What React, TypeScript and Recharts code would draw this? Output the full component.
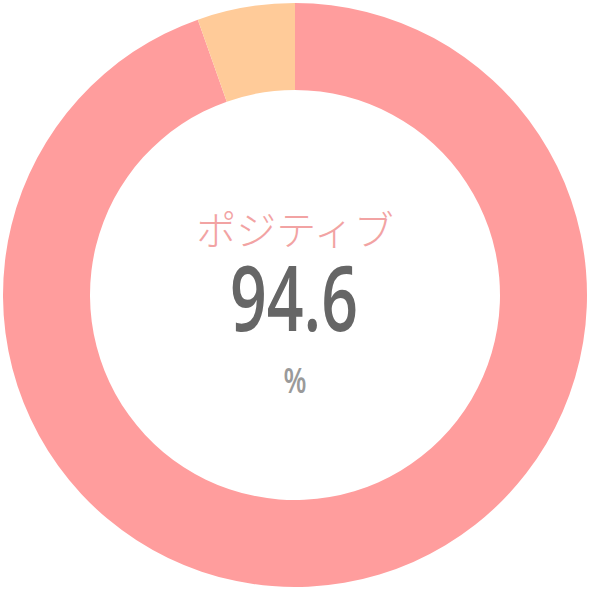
import React from 'react';
import { PieChart, Pie, Cell, Label } from 'recharts';

const categories = ['ポジティブ', 'その他'];
const values = [94.6, 5.4];
const colors = ['#FF9D9D', '#FFCB99'];
const centerTitle = 'ポジティブ';
const centerValue = '94.6';
const centerUnit = '%';

const data = categories.map((name, i) => ({ name, value: values[i] }));

const CenterText = (props: any) => {
  const vb = props.viewBox || {};
  const cx = vb.cx ?? 295;
  const cy = vb.cy ?? 295;
  return (
    <g>
      <text x={cx} y={cy - 50} textAnchor="middle" fill="#F2A3A3" fontSize={40}
        fontFamily="'Noto Sans CJK JP', sans-serif" fontWeight={300}>{centerTitle}</text>
      <text x={cx - 1} y={cy + 36} textAnchor="middle" fill="#666666" fontSize={90} fontWeight={600}
        fontFamily="'Open Sans', sans-serif" textLength={128} lengthAdjust="spacingAndGlyphs">{centerValue}</text>
      <text x={cx} y={cy + 98} textAnchor="middle" fill="#9A9A9A" fontSize={34} fontWeight={600}
        fontFamily="'Open Sans', sans-serif" textLength={23} lengthAdjust="spacingAndGlyphs">{centerUnit}</text>
    </g>
  );
};

export default function App() {
  return (
    <div style={{ position: 'absolute', left: 0, top: 0, width: 590, height: 590, background: '#fff' }}>
      <PieChart width={590} height={590} margin={{ top: 0, right: 0, bottom: 0, left: 0 }}>
        <Pie data={data} dataKey="value" nameKey="name" cx={295} cy={295}
          innerRadius={205} outerRadius={292} startAngle={90} endAngle={-270}
          stroke="none" isAnimationActive={false}>
          {data.map((d, i) => <Cell key={d.name} fill={colors[i]} />)}
          <Label position="center" content={<CenterText />} />
        </Pie>
      </PieChart>
    </div>
  );
}
